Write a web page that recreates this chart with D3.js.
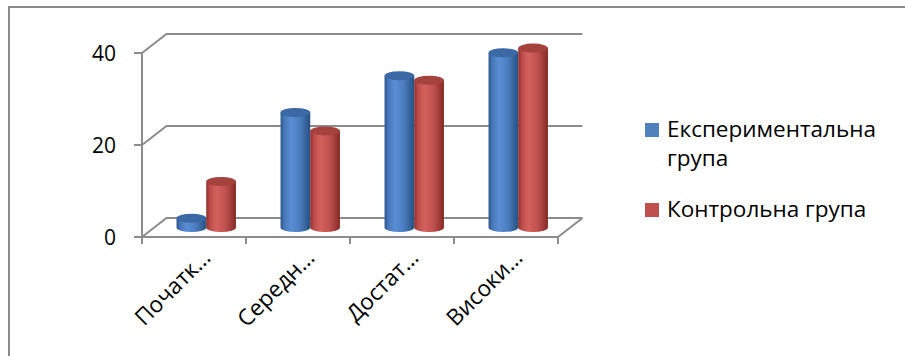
<!DOCTYPE html>
<html>
<head>
<meta charset="utf-8">
<script src="https://cdn.jsdelivr.net/npm/d3@7"></script>
<style>
  html, body { margin: 0; padding: 0; background: #fff; }
  svg { display: block; font-family: "Open Sans", "Noto Sans", sans-serif; }
</style>
</head>
<body>
<svg id="chart" width="905" height="356"></svg>
<script>
// Category labels (truncated as shown on the axis)
const categories = ["Початк…", "Середн…", "Достат…", "Високи…"];
// Series names and values
const seriesNames = ["Експериментальна група", "Контрольна група"];
const experimental = [2, 25, 33, 38];
const control = [10, 21, 32, 39];
const yTicks = [0, 20, 40];

const svg = d3.select("#chart");
const W = 905, H = 356;

svg.append("rect").attr("width", W).attr("height", H).attr("fill", "#fff");
// outer chart border
svg.append("rect")
  .attr("x", 9).attr("y", 7).attr("width", 1000).attr("height", 1000)
  .attr("fill", "none").attr("stroke", "#8a8a8a").attr("stroke-width", 2);

// 3D frame geometry
const x0 = 142, x1 = 558;
const depthX = 24.5, depthY = -19;
const y = d3.scaleLinear().domain([0, 40]).range([237, 53]);
const xCat = d3.scaleBand().domain(categories).range([x0, x1]).paddingInner(0).paddingOuter(0);
const inner = d3.scaleBand().domain([0, 1]).range([0, xCat.bandwidth()]).paddingOuter(0.75).paddingInner(0);

const gridColor = "#8c8c8c";
const g = svg.append("g");

// back-wall gridlines with their diagonal connectors
yTicks.forEach(v => {
  const yf = y(v);
  g.append("path")
    .attr("d", `M${x0},${yf} L${x0 + depthX},${yf + depthY} L${x1 + depthX},${yf + depthY}`)
    .attr("fill", "none").attr("stroke", gridColor).attr("stroke-width", 2);
});
// floor front edge and right edge
g.append("path")
  .attr("d", `M${x0},${y(0)} L${x1},${y(0)} L${x1 + depthX},${y(0) + depthY}`)
  .attr("fill", "none").attr("stroke", gridColor).attr("stroke-width", 2);
// vertical axis
g.append("line").attr("x1", x0).attr("x2", x0).attr("y1", y(40)).attr("y2", y(0))
  .attr("stroke", gridColor).attr("stroke-width", 2);
// value ticks
yTicks.forEach(v => {
  g.append("line").attr("x1", x0 - 8).attr("x2", x0).attr("y1", y(v)).attr("y2", y(v))
    .attr("stroke", gridColor).attr("stroke-width", 2);
  g.append("text").attr("x", 116).attr("y", y(v)).attr("dy", "0.36em")
    .attr("text-anchor", "end").attr("font-size", 21).attr("fill", "#000").text(v);
});
// category ticks
d3.range(categories.length + 1).forEach(i => {
  const xx = x0 + i * xCat.bandwidth();
  g.append("line").attr("x1", xx).attr("x2", xx).attr("y1", y(0)).attr("y2", y(0) + 7)
    .attr("stroke", gridColor).attr("stroke-width", 2);
});
// category labels, rotated
categories.forEach(c => {
  const cx = xCat(c) + xCat.bandwidth() / 2 + 18;
  g.append("text")
    .attr("transform", `translate(${cx},${y(0) + 22}) rotate(-45)`)
    .attr("text-anchor", "end").attr("font-size", 22.5).attr("fill", "#000").text(c);
});

// gradients for cylinders
const defs = svg.append("defs");
const palettes = [
  { id: "gBlue", stops: [["0%", "#2b568c"], ["12%", "#4576b8"], ["35%", "#5a8fd4"], ["65%", "#4a7dc0"], ["100%", "#28507f"]], top: "#3a69a5", legend: "#4f81bd" },
  { id: "gRed", stops: [["0%", "#8a2c29"], ["12%", "#bd4c49"], ["35%", "#d4615d"], ["65%", "#c0504d"], ["100%", "#842a27"]], top: "#a6423e", legend: "#c0504d" }
];
palettes.forEach(p => {
  const lg = defs.append("linearGradient").attr("id", p.id).attr("x1", "0%").attr("x2", "100%").attr("y1", "0%").attr("y2", "0%");
  p.stops.forEach(s => lg.append("stop").attr("offset", s[0]).attr("stop-color", s[1]));
});

// cylinders sit at mid depth
const midX = depthX / 2, midY = depthY / 2;
const ry = 4.5;
const bars = g.append("g");
categories.forEach((c, ci) => {
  [experimental[ci], control[ci]].forEach((v, si) => {
    const xl = xCat(c) + inner(si) + midX;
    const bw = inner.bandwidth();
    const rx = bw / 2;
    const xr = xl + bw;
    const yb = y(0) + midY;
    const yt = y(v) + midY;
    const p = palettes[si];
    bars.append("path")
      .attr("d", `M${xl},${yt} L${xl},${yb} A${rx},${ry} 0 0 0 ${xr},${yb} L${xr},${yt} Z`)
      .attr("fill", `url(#${p.id})`);
    bars.append("ellipse")
      .attr("cx", xl + rx).attr("cy", yt).attr("rx", rx).attr("ry", ry)
      .attr("fill", p.top);
  });
});

// legend
const legend = svg.append("g");
const legendRows = [
  { lines: ["Експериментальна", "група"], y: 137 },
  { lines: ["Контрольна група"], y: 217 }
];
legendRows.forEach((row, i) => {
  legend.append("rect").attr("x", 645).attr("y", row.y - 14).attr("width", 14).attr("height", 14)
    .attr("fill", palettes[i].legend);
  row.lines.forEach((ln, j) => {
    legend.append("text").attr("x", 667).attr("y", row.y + j * 29)
      .attr("font-size", 22.5).attr("fill", "#000").text(ln);
  });
});
</script>
</body>
</html>
